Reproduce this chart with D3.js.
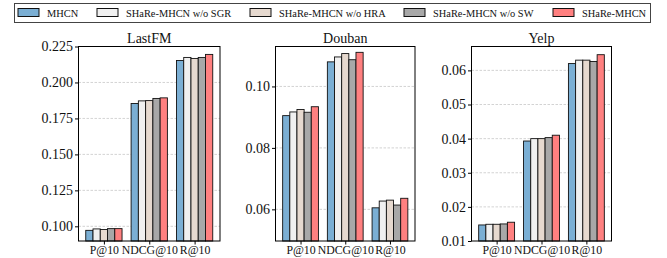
<!DOCTYPE html>
<html><head><meta charset="utf-8">
<script src="https://cdn.jsdelivr.net/npm/d3@7"></script>
<style>body{margin:0;background:#fff;}</style>
</head><body><svg id="c" width="667" height="258" font-family="Liberation Serif"></svg>
<script>
const categories = ["P@10", "NDCG@10", "R@10"];
const seriesNames = ["MHCN", "SHaRe-MHCN w/o SGR", "SHaRe-MHCN w/o HRA", "SHaRe-MHCN w/o SW", "SHaRe-MHCN"];
const colors = ["#7BAFD4", "#F0F0F0", "#E6D9CF", "#A8A8A8", "#FF8080"];
const datasets = ["LastFM", "Douban", "Yelp"];
// values[series][category]
const lastfm = [
  [0.0972, 0.1854, 0.2153],
  [0.0982, 0.1872, 0.2174],
  [0.0978, 0.1874, 0.2167],
  [0.0984, 0.1889, 0.2174],
  [0.0984, 0.1893, 0.2195]
];
const douban = [
  [0.0905, 0.1080, 0.0605],
  [0.0917, 0.1096, 0.0627],
  [0.0925, 0.1107, 0.0630],
  [0.0916, 0.1087, 0.0614],
  [0.0934, 0.1111, 0.0636]
];
const yelp = [
  [0.0147, 0.0393, 0.0620],
  [0.0149, 0.0400, 0.0630],
  [0.0149, 0.0400, 0.0630],
  [0.0150, 0.0403, 0.0626],
  [0.0155, 0.0410, 0.0646]
];
const lastfmTicks = [0.100, 0.125, 0.150, 0.175, 0.200, 0.225];
const doubanTicks = [0.06, 0.08, 0.10];
const yelpTicks = [0.01, 0.02, 0.03, 0.04, 0.05, 0.06];
const domains = [[0.0898, 0.225], [0.0497, 0.1130], [0.01, 0.067]];
const tickFormats = [".3f", ".2f", ".2f"];

(function () {
const panels = [
  {name: datasets[0], values: lastfm, ticks: lastfmTicks, domain: domains[0], fmt: tickFormats[0], x0: 78.5, x1: 220},
  {name: datasets[1], values: douban, ticks: doubanTicks, domain: domains[1], fmt: tickFormats[1], x0: 275.5, x1: 415},
  {name: datasets[2], values: yelp, ticks: yelpTicks, domain: domains[2], fmt: tickFormats[2], x0: 471.5, x1: 611.5}
];
const plotTop = 46.5, plotBottom = 241;
const svg = d3.select("#c");
const barW = 0.16;

panels.forEach(p => {
  const x = d3.scaleLinear().domain([-0.56, 2.56]).range([p.x0, p.x1]);
  const y = d3.scaleLinear().domain(p.domain).range([plotBottom, plotTop]);
  const g = svg.append("g");
  g.selectAll("line.grid").data(p.ticks.filter(t => Math.abs(y(t) - plotTop) > 1 && Math.abs(y(t) - plotBottom) > 1))
    .enter().append("line")
    .attr("x1", p.x0).attr("x2", p.x1)
    .attr("y1", d => y(d)).attr("y2", d => y(d))
    .attr("stroke", "#c8c8c8").attr("stroke-width", 0.8).attr("stroke-dasharray", "2.5,1.5");
  p.values.forEach((vals, si) => {
    g.selectAll(null).data(vals).enter().append("rect")
      .attr("x", (d, ci) => x(ci + (si - 2) * barW - barW / 2))
      .attr("width", x(barW) - x(0))
      .attr("y", d => y(d))
      .attr("height", d => plotBottom - y(d))
      .attr("fill", colors[si])
      .attr("stroke", "#111").attr("stroke-width", 0.9);
  });
  g.append("rect").attr("x", p.x0).attr("y", plotTop).attr("width", p.x1 - p.x0).attr("height", plotBottom - plotTop)
    .attr("fill", "none").attr("stroke", "#000").attr("stroke-width", 1);
  const ya = d3.axisLeft(y).tickValues(p.ticks).tickFormat(d3.format(p.fmt)).tickSize(3.5).tickPadding(2);
  const yg = g.append("g").attr("transform", `translate(${p.x0},0)`).call(ya);
  yg.attr("font-family", null).attr("font-size", null);
  yg.select(".domain").remove();
  yg.selectAll("text").attr("font-size", 14).attr("fill", "#111");
  yg.selectAll("line").attr("stroke", "#000");
  const xa = d3.axisBottom(x).tickValues([0, 1, 2]).tickFormat(i => categories[i]).tickSize(3.5).tickPadding(1.5);
  const xg = g.append("g").attr("transform", `translate(0,${plotBottom})`).call(xa);
  xg.attr("font-family", null).attr("font-size", null);
  xg.select(".domain").remove();
  xg.selectAll("text").attr("font-size", 11.8).attr("fill", "#111");
  xg.selectAll("line").attr("stroke", "#000");
  g.append("text").attr("x", (p.x0 + p.x1) / 2).attr("y", 43).attr("text-anchor", "middle")
    .attr("font-size", 14).attr("fill", "#111").text(p.name);
});

const lg = svg.append("g");
lg.append("rect").attr("x", 14.5).attr("y", 3.5).attr("width", 636).attr("height", 19)
  .attr("fill", "#fff").attr("stroke", "#444").attr("stroke-width", 1);
const legX = [18, 97, 250, 404, 553];
seriesNames.forEach((n, i) => {
  lg.append("rect").attr("x", legX[i]).attr("y", 8.5).attr("width", 21).attr("height", 8)
    .attr("fill", colors[i]).attr("stroke", "#111").attr("stroke-width", 1);
  lg.append("text").attr("x", legX[i] + 29).attr("y", 16.5).attr("font-size", 10.4).attr("fill", "#111").text(n);
});
svg.selectAll("text").attr("font-family", "Liberation Serif");
})();
</script></body></html>
